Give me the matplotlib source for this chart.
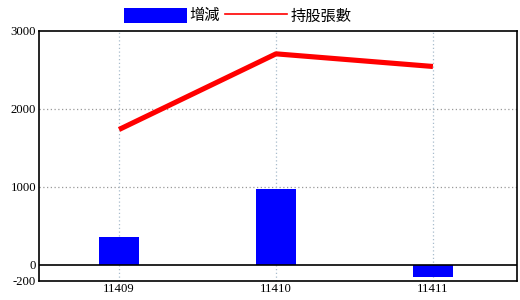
import matplotlib
matplotlib.use("Agg")
import matplotlib.pyplot as plt
from matplotlib.patches import Patch
from matplotlib.lines import Line2D

categories = ["11409", "11410", "11411"]
change = [360, 975, -150]
holdings = [1737, 2707, 2545]
yticks = [-200, 0, 1000, 2000, 3000]

plt.rcParams['font.family'] = ['Liberation Serif', 'DejaVu Sans']

fig = plt.figure(figsize=(5.2, 3.0), dpi=100)
ax = fig.add_axes([0.075, 0.0647, 0.919, 0.832])

x = list(range(len(categories)))
ax.bar(x, change, width=0.255, color='#0000ff', zorder=3)
ax.plot(x, holdings, color='#ff0000', lw=3.7, solid_capstyle='butt', zorder=4)
ax.axhline(0, color='black', lw=1.2, zorder=5)

ax.set_xlim(-0.51, 2.535)
ax.set_ylim(-200, 3000)
ax.set_xticks(x)
ax.set_xticklabels(categories)
ax.set_yticks(yticks)
ax.set_yticklabels([str(v) for v in yticks])
ax.tick_params(axis='both', length=0, labelsize=9.2, pad=2)

for v in [1000, 2000]:
    ax.axhline(v, color='#999999', lw=0.9, ls=(0, (1, 2)), zorder=1)
for xi in x:
    ax.axvline(xi, color='#a8bccc', lw=0.9, ls=(0, (1, 2)), zorder=1)

for s in ax.spines.values():
    s.set_color('black')
    s.set_linewidth(1.2)

handles = [Patch(facecolor='#0000ff', edgecolor='none'),
           Line2D([], [], color='#ff0000', lw=1.2)]
leg = fig.legend(handles, ['增減', '持股張數'], loc='center',
                 bbox_to_anchor=(0.457, 0.947), ncol=2, frameon=False,
                 prop={'family': ['Noto Sans CJK TC', 'DejaVu Sans'], 'size': 11},
                 handlelength=4.1, handleheight=1.1, handletextpad=0.2,
                 columnspacing=0.3, borderpad=0, borderaxespad=0)

fig.savefig('out.png', dpi=100)
